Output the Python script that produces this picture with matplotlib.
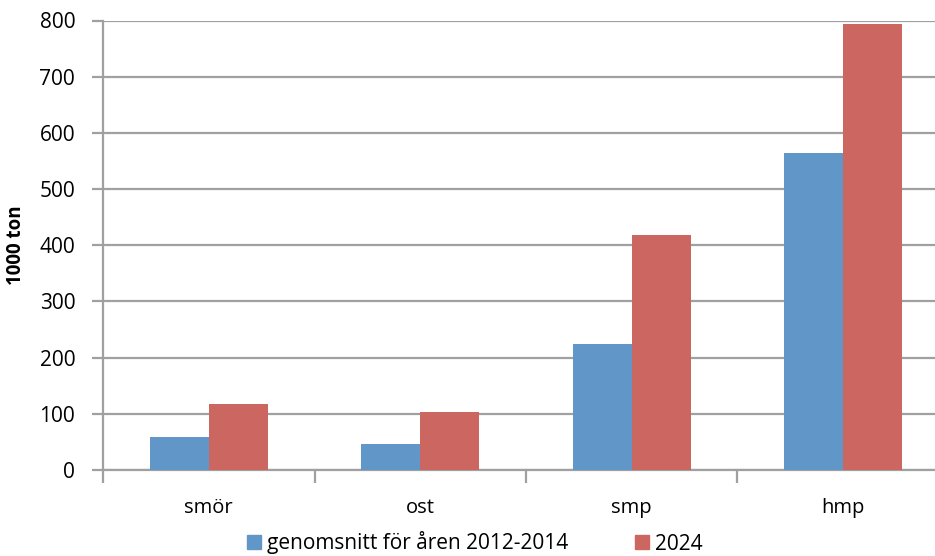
import numpy as np
from matplotlib import pyplot as plt
from matplotlib.patches import Patch

plt.rcParams['font.family'] = ['Open Sans', 'DejaVu Sans']

categories = ['smör', 'ost', 'smp', 'hmp']
avg_2012_2014 = [59, 46, 224, 564]
values_2024 = [117, 104, 418, 794]
series_labels = ['genomsnitt för åren 2012-2014', '2024']
y_ticks = [0, 100, 200, 300, 400, 500, 600, 700, 800]

blue = '#6196C9'
red = '#CC6660'
grid_color = '#A0A0A0'

W, H = 935, 556
fig = plt.figure(figsize=(W / 100, H / 100), dpi=100)
# axes right edge goes past the picture edge, as in the reference crop
left, right, top, bottom = 103, 949, 20.5, 470
ax = fig.add_axes([left / W, 1 - bottom / H, (right - left) / W, (bottom - top) / H])

x = np.arange(len(categories))
width = 0.28
ax.bar(x - width / 2, avg_2012_2014, width, color=blue, zorder=3)
ax.bar(x + width / 2, values_2024, width, color=red, zorder=3)

ax.set_xlim(-0.5, len(categories) - 0.5)
ax.set_ylim(0, 800)
ax.set_yticks(y_ticks)
ax.set_yticklabels([str(v) for v in y_ticks], fontsize=15)
ax.yaxis.grid(True, color=grid_color, linewidth=1.6, zorder=0)
ax.set_axisbelow(True)

ax.set_xticks(x)
ax.set_xticklabels(categories, fontsize=14.5)
ax.tick_params(axis='x', length=0, pad=20)
ax.set_xticks(np.arange(-0.5, len(categories), 1), minor=True)
ax.tick_params(axis='x', which='minor', length=9, width=1.6, color=grid_color, direction='out')
ax.tick_params(axis='y', length=8, width=1.6, color=grid_color, pad=12)

for side in ['top', 'right']:
    ax.spines[side].set_visible(False)
for side in ['left', 'bottom']:
    ax.spines[side].set_color(grid_color)
    ax.spines[side].set_linewidth(1.6)

ax.set_ylabel('1000 ton', fontsize=13.5, fontweight='bold')
ax.yaxis.set_label_coords(-77 / (right - left), 0.5)

handles = [Patch(color=blue), Patch(color=red)]
fig.legend(handles, series_labels, loc='center', bbox_to_anchor=(475 / W, 1 - 543 / H),
           ncol=2, frameon=False, fontsize=15, handlelength=0.65, handleheight=0.65,
           handletextpad=0.3, columnspacing=3.2)

fig.savefig('out.png', dpi=100)
